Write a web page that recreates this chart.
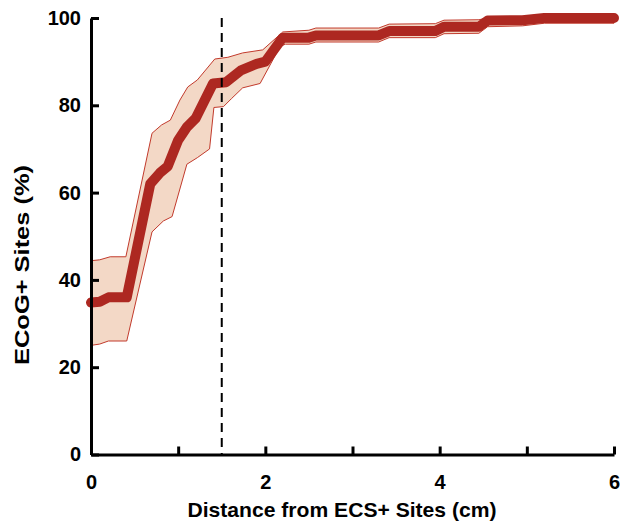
<!DOCTYPE html>
<html>
<head>
<meta charset="utf-8">
<script src="https://cdn.jsdelivr.net/npm/d3@7"></script>
<style>
  body { margin: 0; background: #fff; }
  svg text { font-family: "Liberation Sans", Arial, sans-serif; font-weight: bold; fill: #000; }
</style>
</head>
<body>
<div class="chart-section"></div>
<script>
// mean curve (distance in cm, % of ECoG+ sites)
const meanDist = [0, 0.1, 0.2, 0.41, 0.68, 0.79, 0.88, 1.0, 1.1, 1.2, 1.4, 1.55, 1.72, 1.9, 2.0, 2.2, 2.5, 2.58, 3.3, 3.42, 3.95, 4.05, 4.45, 4.55, 4.95, 5.2, 6];
const meanPct = [34.8, 35, 36, 36, 62, 64.5, 66, 72, 75, 77, 85, 85.3, 88, 89.5, 90, 95.5, 95.5, 96, 96, 97, 97, 98, 98, 99.4, 99.5, 100, 100];

// upper edge of the shaded band
const upperDist = [0, 0.1, 0.22, 0.4, 0.7, 0.81, 0.91, 1.02, 1.11, 1.22, 1.42, 1.57, 1.74, 1.97, 2.2, 2.5, 2.58, 3.3, 3.42, 3.95, 4.05, 4.45, 4.55, 6];
const upperPct = [44.4, 44.6, 45.3, 45.3, 73.6, 75.5, 76.6, 81.2, 84.2, 85.8, 90.6, 91, 92, 92.7, 96.8, 97.2, 97.7, 97.7, 98.6, 98.7, 99.5, 99.6, 100, 100];

// lower edge of the shaded band
const lowerDist = [0, 0.1, 0.2, 0.41, 0.7, 0.83, 0.93, 1.1, 1.22, 1.36, 1.41, 1.52, 1.61, 1.74, 1.94, 2.17, 2.23, 2.5, 2.58, 3.3, 3.42, 3.95, 4.05, 4.45, 4.55, 4.95, 5.2, 6];
const lowerPct = [25, 25.3, 26, 26, 51, 53.5, 54.5, 66.5, 68, 70, 79.5, 79.7, 81.5, 84, 85, 93.5, 94, 94, 94.5, 94.5, 95.5, 95.5, 96.4, 96.5, 98, 98.2, 98.8, 98.8];

const xTicks = [0, 1, 2, 3, 4, 5, 6];
const xTickLabels = [0, 2, 4, 6];
const yTicks = [0, 20, 40, 60, 80, 100];
const cutoff = 1.5;

const width = 620;
const height = 522;
const margin = { top: 18, right: 6, bottom: 67.5, left: 91 };

const svg = d3
  .select(".chart-section")
  .append("svg")
  .attr("width", width)
  .attr("height", height);

const x = d3
  .scaleLinear()
  .domain([0, 6])
  .range([margin.left, width - margin.right]);

const y = d3
  .scaleLinear()
  .domain([0, 100])
  .range([height - margin.bottom, margin.top]);

const zip = (xs, ys) => xs.map((d, i) => [d, ys[i]]);

const meanPts = zip(meanDist, meanPct);
const upperPts = zip(upperDist, upperPct);
const lowerPts = zip(lowerDist, lowerPct);

const line = d3
  .line()
  .x((d) => x(d[0]))
  .y((d) => y(d[1]));

// band: upper edge forward, lower edge back
svg
  .append("path")
  .attr("d", line(upperPts.concat(lowerPts.slice().reverse())) + "Z")
  .attr("fill", "#f3d8c6")
  .attr("stroke", "#c23a2c")
  .attr("stroke-width", 1);

svg
  .append("path")
  .attr("d", line(meanPts))
  .attr("fill", "none")
  .attr("stroke", "#ad2821")
  .attr("stroke-width", 10)
  .attr("stroke-linejoin", "round")
  .attr("stroke-linecap", "round");

svg
  .append("line")
  .attr("x1", x(cutoff))
  .attr("x2", x(cutoff))
  .attr("y1", y(100))
  .attr("y2", y(0))
  .attr("stroke", "#000")
  .attr("stroke-width", 2)
  .attr("stroke-dasharray", "9,6");

const xAxis = svg
  .append("g")
  .attr("transform", `translate(0,${y(0)})`)
  .call(
    d3
      .axisBottom(x)
      .tickValues(xTicks)
      .tickSizeInner(-8)
      .tickSizeOuter(0)
      .tickPadding(20)
      .tickFormat((d) => (xTickLabels.includes(d) ? d : ""))
  );

const yAxis = svg
  .append("g")
  .attr("transform", `translate(${x(0)},0)`)
  .call(
    d3
      .axisLeft(y)
      .tickValues(yTicks)
      .tickSizeInner(-8)
      .tickSizeOuter(0)
      .tickPadding(10)
  );

[xAxis, yAxis].forEach((g) => {
  g.select(".domain").attr("stroke", "#000").attr("stroke-width", 3);
  g.selectAll(".tick line").attr("stroke", "#000").attr("stroke-width", 3);
  g.selectAll(".tick text").attr("font-size", 20).attr("fill", "#000");
});

svg
  .append("text")
  .attr("x", 342)
  .attr("y", 517)
  .attr("text-anchor", "middle")
  .attr("font-size", 21)
  .attr("textLength", 309)
  .attr("lengthAdjust", "spacingAndGlyphs")
  .text("Distance from ECS+ Sites (cm)");

svg
  .append("text")
  .attr("transform", "translate(29,265) rotate(-90)")
  .attr("text-anchor", "middle")
  .attr("font-size", 21)
  .attr("textLength", 200)
  .attr("lengthAdjust", "spacingAndGlyphs")
  .text("ECoG+ Sites (%)");
</script>
</body>
</html>
